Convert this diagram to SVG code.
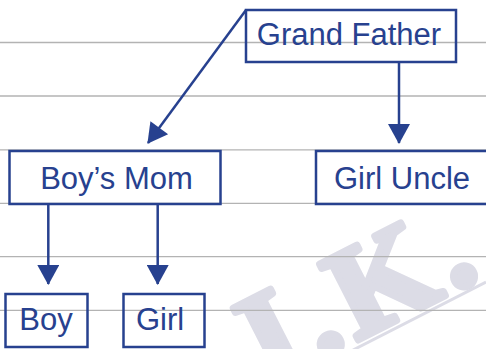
<svg xmlns="http://www.w3.org/2000/svg" width="486" height="349" viewBox="0 0 486 349">
<style>
.rule{stroke:#b3b3b3;stroke-width:1.3;}
.box{fill:none;stroke:#27418f;stroke-width:2.5;}
.lbl{font-family:"Liberation Sans",Arial,sans-serif;font-size:31px;fill:#27418f;}
.conn{stroke:#27418f;stroke-width:2.5;fill:none;}
.wm{font-family:"Liberation Serif","Times New Roman",serif;font-weight:bold;font-size:130px;letter-spacing:8px;fill:#dcdce6;stroke:#dcdce6;stroke-width:7;stroke-linejoin:round;}
</style>
<defs>
<marker id="arr" markerUnits="userSpaceOnUse" markerWidth="24" markerHeight="22" viewBox="0 0 20 22" refX="19" refY="11" orient="auto">
<path d="M0,0 L20,11 L0,22 Z" fill="#27418f"/>
</marker>
</defs>
<rect width="486" height="349" fill="#ffffff"/>
<g id="watermark">
<text class="wm" x="268" y="386" transform="rotate(-27 268 386)">I.K.</text>
<line x1="353" y1="350" x2="486" y2="282" stroke="#dcdce6" stroke-width="3"/>
</g>
<g id="rules">
<line class="rule" x1="0" y1="42.5" x2="486" y2="42.5"/>
<line class="rule" x1="0" y1="96" x2="486" y2="96"/>
<line class="rule" x1="0" y1="149.8" x2="486" y2="149.8"/>
<line class="rule" x1="0" y1="203.3" x2="486" y2="203.3"/>
<line class="rule" x1="0" y1="256.6" x2="486" y2="256.6"/>
<line class="rule" x1="0" y1="310.3" x2="486" y2="310.3"/>
</g>
<g id="connectors">
<line class="conn" x1="246" y1="10" x2="148" y2="143" marker-end="url(#arr)"/>
<line class="conn" x1="399" y1="62" x2="399" y2="143" marker-end="url(#arr)"/>
<line class="conn" x1="48.3" y1="204" x2="48.3" y2="284" marker-end="url(#arr)"/>
<line class="conn" x1="157.7" y1="204" x2="157.7" y2="284" marker-end="url(#arr)"/>
</g>
<g id="grand-father">
<rect class="box" x="246" y="10" width="210" height="52"/>
<text class="lbl" x="349" y="45" text-anchor="middle">Grand Father</text>
</g>
<g id="boys-mom">
<rect class="box" x="9.5" y="151" width="211" height="53"/>
<text class="lbl" x="116.5" y="189" text-anchor="middle">Boy’s Mom</text>
</g>
<g id="girl-uncle">
<rect class="box" x="316" y="151" width="180" height="53"/>
<text class="lbl" x="334" y="189">Girl Uncle</text>
</g>
<g id="boy">
<rect class="box" x="5.5" y="294" width="82" height="53"/>
<text class="lbl" x="46" y="330" text-anchor="middle">Boy</text>
</g>
<g id="girl">
<rect class="box" x="123.5" y="294" width="81" height="53"/>
<text class="lbl" x="160" y="330" text-anchor="middle">Girl</text>
</g>
</svg>
